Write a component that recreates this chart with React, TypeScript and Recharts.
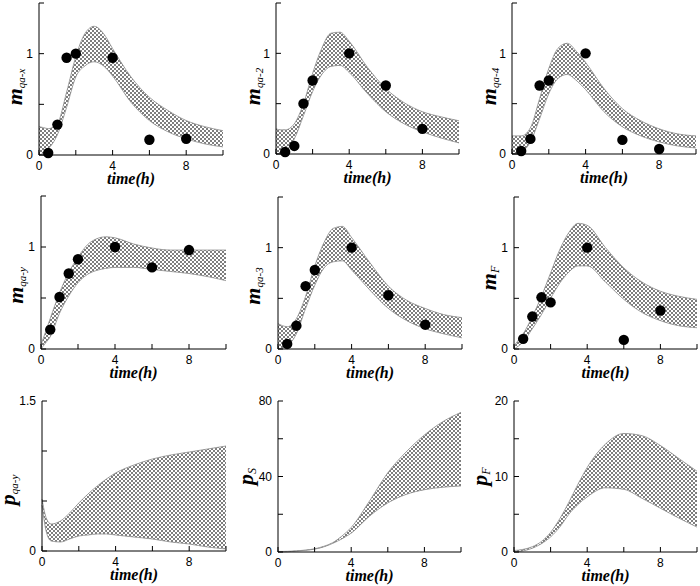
import React from 'react';
import { ComposedChart, Area, Scatter, XAxis, YAxis } from 'recharts';

// ---------- data ----------
const timeGrid = [0, 0.25, 0.5, 1, 1.5, 2, 2.5, 3, 3.5, 4, 5, 6, 7, 8, 9, 10];
const sampleTimes = [0.5, 1, 1.5, 2, 4, 6, 8];
const xTicks = [0, 2, 4, 6, 8, 10];
const xTickLabels = [0, 4, 8];

const mQaxLow = [0.0, 0.02, 0.06, 0.2, 0.47, 0.77, 0.88, 0.92, 0.88, 0.78, 0.52, 0.34, 0.23, 0.16, 0.11, 0.08];
const mQaxHigh = [0.28, 0.27, 0.26, 0.31, 0.62, 0.97, 1.2, 1.27, 1.2, 1.05, 0.77, 0.57, 0.44, 0.34, 0.28, 0.24];
const mQaxObs = [0.02, 0.3, 0.96, 1.0, 0.96, 0.15, 0.16];

const mQa2Low = [0.0, 0.01, 0.03, 0.15, 0.38, 0.62, 0.79, 0.87, 0.88, 0.81, 0.6, 0.42, 0.3, 0.22, 0.16, 0.11];
const mQa2High = [0.25, 0.24, 0.24, 0.3, 0.5, 0.8, 1.05, 1.2, 1.21, 1.12, 0.86, 0.65, 0.51, 0.42, 0.37, 0.33];
const mQa2Obs = [0.02, 0.08, 0.5, 0.73, 1.0, 0.68, 0.25];

const mQa4Low = [0.0, 0.01, 0.02, 0.12, 0.35, 0.6, 0.75, 0.79, 0.73, 0.64, 0.42, 0.27, 0.18, 0.12, 0.08, 0.06];
const mQa4High = [0.18, 0.18, 0.18, 0.26, 0.55, 0.85, 1.05, 1.1, 1.02, 0.91, 0.65, 0.45, 0.33, 0.25, 0.2, 0.18];
const mQa4Obs = [0.03, 0.15, 0.68, 0.73, 1.0, 0.14, 0.05];

const mQayLow = [0.0, 0.06, 0.12, 0.35, 0.52, 0.65, 0.73, 0.77, 0.79, 0.8, 0.8, 0.78, 0.76, 0.74, 0.71, 0.67];
const mQayHigh = [0.04, 0.17, 0.3, 0.55, 0.75, 0.9, 1.02, 1.08, 1.1, 1.09, 1.03, 0.99, 0.97, 0.97, 0.97, 0.97];
const mQayObs = [0.19, 0.51, 0.74, 0.88, 1.0, 0.8, 0.97];

const mQa3Low = [0.0, 0.01, 0.03, 0.15, 0.4, 0.63, 0.8, 0.86, 0.87, 0.78, 0.58, 0.4, 0.28, 0.2, 0.15, 0.11];
const mQa3High = [0.25, 0.23, 0.22, 0.3, 0.52, 0.82, 1.05, 1.19, 1.21, 1.1, 0.85, 0.62, 0.48, 0.4, 0.34, 0.31];
const mQa3Obs = [0.05, 0.23, 0.62, 0.78, 1.0, 0.53, 0.24];

const mFLow = [0.0, 0.03, 0.07, 0.2, 0.34, 0.5, 0.65, 0.76, 0.82, 0.82, 0.66, 0.49, 0.36, 0.28, 0.23, 0.21];
const mFHigh = [0.03, 0.09, 0.15, 0.32, 0.52, 0.75, 0.98, 1.15, 1.24, 1.22, 1.0, 0.8, 0.66, 0.57, 0.52, 0.49];
const mFObs = [0.1, 0.32, 0.51, 0.46, 1.0, 0.09, 0.38];

const pQayLow = [0.46, 0.18, 0.1, 0.09, 0.12, 0.15, 0.16, 0.17, 0.17, 0.16, 0.14, 0.12, 0.09, 0.07, 0.04, 0.02];
const pQayHigh = [0.52, 0.32, 0.27, 0.3, 0.38, 0.48, 0.57, 0.65, 0.72, 0.78, 0.86, 0.92, 0.96, 0.99, 1.02, 1.05];

const pSLow = [0.0, 0.05, 0.1, 0.5, 0.9, 1.5, 2.7, 4.6, 7, 10, 19, 26, 30.5, 33, 34.3, 35];
const pSHigh = [0.3, 0.3, 0.35, 0.6, 1.0, 1.7, 3, 5, 8.5, 13, 27, 42, 53, 62, 69, 74];

const pFLow = [0.0, 0.05, 0.15, 0.5, 1.1, 2.0, 3.3, 5.0, 6.3, 7.3, 8.5, 8.3, 7.1, 5.8, 4.5, 3.3];
const pFHigh = [0.2, 0.25, 0.35, 0.7, 1.4, 2.6, 4.4, 6.6, 9.0, 11.2, 14.3, 15.7, 15.4, 14.1, 12.4, 10.7];

const mTicks = [0, 0.5, 1, 1.5];
const mTickLabels = [0, 1];
const pQayTicks = [0, 0.5, 1, 1.5];
const pQayTickLabels = [0, 1.5];
const pSTicks = [0, 20, 40, 60, 80];
const pSTickLabels = [0, 40, 80];
const pFTicks = [0, 5, 10, 15, 20];
const pFTickLabels = [0, 10, 20];

// ---------- layout ----------
type PanelDef = {
  id: string; sym: string; sub: string; subSize: number;
  low: number[]; high: number[]; obs: number[] | null;
  yMax: number; yTicks: number[]; yLabels: number[];
  box: [number, number, number, number]; labelDx: number; labelDy: number;
};

const panels: PanelDef[] = [
  { id: 'p1', sym: 'm', sub: 'qa-x', subSize: 11, low: mQaxLow, high: mQaxHigh, obs: mQaxObs, yMax: 1.5, yTicks: mTicks, yLabels: mTickLabels, box: [39, 3, 223, 155], labelDx: -17, labelDy: 8 },
  { id: 'p2', sym: 'm', sub: 'qa-2', subSize: 11, low: mQa2Low, high: mQa2High, obs: mQa2Obs, yMax: 1.5, yTicks: mTicks, yLabels: mTickLabels, box: [276, 3, 459, 154], labelDx: -16, labelDy: 8 },
  { id: 'p3', sym: 'm', sub: 'qa-4', subSize: 11, low: mQa4Low, high: mQa4High, obs: mQa4Obs, yMax: 1.5, yTicks: mTicks, yLabels: mTickLabels, box: [512, 3, 696, 154], labelDx: -16, labelDy: 8 },
  { id: 'p4', sym: 'm', sub: 'qa-y', subSize: 11, low: mQayLow, high: mQayHigh, obs: mQayObs, yMax: 1.5, yTicks: mTicks, yLabels: mTickLabels, box: [41, 196, 226, 349], labelDx: -18, labelDy: 13 },
  { id: 'p5', sym: 'm', sub: 'qa-3', subSize: 11, low: mQa3Low, high: mQa3High, obs: mQa3Obs, yMax: 1.5, yTicks: mTicks, yLabels: mTickLabels, box: [278, 197, 462, 349], labelDx: -18, labelDy: 13 },
  { id: 'p6', sym: 'm', sub: 'F', subSize: 12, low: mFLow, high: mFHigh, obs: mFObs, yMax: 1.5, yTicks: mTicks, yLabels: mTickLabels, box: [514, 197, 697, 349], labelDx: -18, labelDy: 5 },
  { id: 'p7', sym: 'p', sub: 'qa-y', subSize: 11, low: pQayLow, high: pQayHigh, obs: null, yMax: 1.5, yTicks: pQayTicks, yLabels: pQayTickLabels, box: [42, 401, 226, 551], labelDx: -27, labelDy: 14 },
  { id: 'p8', sym: 'p', sub: 'S', subSize: 12, low: pSLow, high: pSHigh, obs: null, yMax: 80, yTicks: pSTicks, yLabels: pSTickLabels, box: [278, 401, 461, 552], labelDx: -25, labelDy: 0 },
  { id: 'p9', sym: 'p', sub: 'F', subSize: 12, low: pFLow, high: pFHigh, obs: null, yMax: 20, yTicks: pFTicks, yLabels: pFTickLabels, box: [514, 401, 697, 552], labelDx: -27, labelDy: 0 },
];

const YW = 48;
const MT = 10;
const MR = 5;
const XH = 38;
const SERIF = "'Liberation Serif', 'DejaVu Serif', 'Times New Roman', serif";
const SANS = "'Liberation Sans', Arial, Helvetica, sans-serif";
const tickStyle = { fontSize: 12, fill: '#000', fontFamily: SANS };
const axisStroke = { stroke: '#000', strokeWidth: 1 };

function YLabel({ cx, cy, sym, sub, subSize }: { cx: number; cy: number; sym: string; sub: string; subSize: number }) {
  return (
    <text x={cx} y={cy} transform={`rotate(-90 ${cx} ${cy})`} textAnchor="middle" fontFamily={SERIF} fill="#000">
      <tspan fontSize={22} fontWeight="bold" fontStyle="italic">{sym}</tspan>
      <tspan fontSize={subSize} fontStyle="italic" dy={3}>{sub}</tspan>
    </text>
  );
}

function Panel({ p }: { p: PanelDef }) {
  const [L, T, R, B] = p.box;
  const pw = R - L;
  const ph = B - T;
  const w = YW + pw + MR;
  const h = MT + ph + XH;
  const data = timeGrid.map((t, i) => ({ x: t, band: [p.low[i], p.high[i]] }));
  const obs = p.obs ? sampleTimes.map((t, i) => ({ x: t, y: p.obs![i] })) : [];
  const pid = `hatch-${p.id}`;
  const fmtX = (v: number) => (xTickLabels.includes(v) ? String(v) : '');
  const fmtY = (v: number) => (p.yLabels.includes(v) ? String(v) : '');
  return (
    <div style={{ position: 'absolute', left: L - YW, top: T - MT, width: w, height: h }}>
      <ComposedChart width={w} height={h} data={data} margin={{ top: MT, right: MR, bottom: 0, left: 0 }}>
        <defs>
          <pattern id={pid} patternUnits="userSpaceOnUse" width={4} height={4}>
            <path d="M-1,-1 L5,5 M5,-1 L-1,5" stroke="#262626" strokeWidth={0.6} />
          </pattern>
        </defs>
        <XAxis
          dataKey="x" type="number" domain={[0, 10]} ticks={xTicks} tickFormatter={fmtX}
          height={XH} tickSize={-5} tickMargin={11} axisLine={axisStroke} tickLine={axisStroke}
          tick={tickStyle} interval={0}
          label={{
            content: () => (
              <text x={YW + pw / 2} y={MT + ph + 29} textAnchor="middle" fontFamily={SERIF}
                fontSize={16} fontWeight="bold" fontStyle="italic" fill="#000">time(h)</text>
            ),
          }}
        />
        <XAxis xAxisId="top" orientation="top" dataKey="x" type="number" domain={[0, 10]} ticks={xTicks}
          height={0} tickSize={-5} tick={false} axisLine={axisStroke} tickLine={axisStroke} interval={0} />
        <YAxis
          type="number" domain={[0, p.yMax]} ticks={p.yTicks} tickFormatter={fmtY} width={YW}
          tickSize={-5} tickMargin={11} axisLine={axisStroke} tickLine={axisStroke} tick={tickStyle} interval={0}
          label={{
            content: () => (
              <YLabel cx={YW + p.labelDx} cy={MT + ph / 2 + p.labelDy} sym={p.sym} sub={p.sub} subSize={p.subSize} />
            ),
          }}
        />
        <YAxis yAxisId="right" orientation="right" type="number" domain={[0, p.yMax]} ticks={p.yTicks}
          width={0} tickSize={-5} tick={false} axisLine={axisStroke} tickLine={axisStroke} interval={0} />
        <Area
          type="monotone" dataKey="band" stroke="#8a8a8a" strokeWidth={0.8}
          fill={`url(#${pid})`} fillOpacity={1} isAnimationActive={false} dot={false} activeDot={false}
        />
        {p.obs && (
          <Scatter
            data={obs} dataKey="y" isAnimationActive={false}
            shape={(s: any) => <circle cx={s.cx} cy={s.cy} r={5.2} fill="#000" />}
          />
        )}
      </ComposedChart>
    </div>
  );
}

export default function App() {
  return (
    <div style={{ position: 'absolute', left: 0, top: 0, width: 700, height: 586, background: '#fff', overflow: 'hidden' }}>
      {panels.map((p) => (
        <Panel key={p.id} p={p} />
      ))}
    </div>
  );
}
